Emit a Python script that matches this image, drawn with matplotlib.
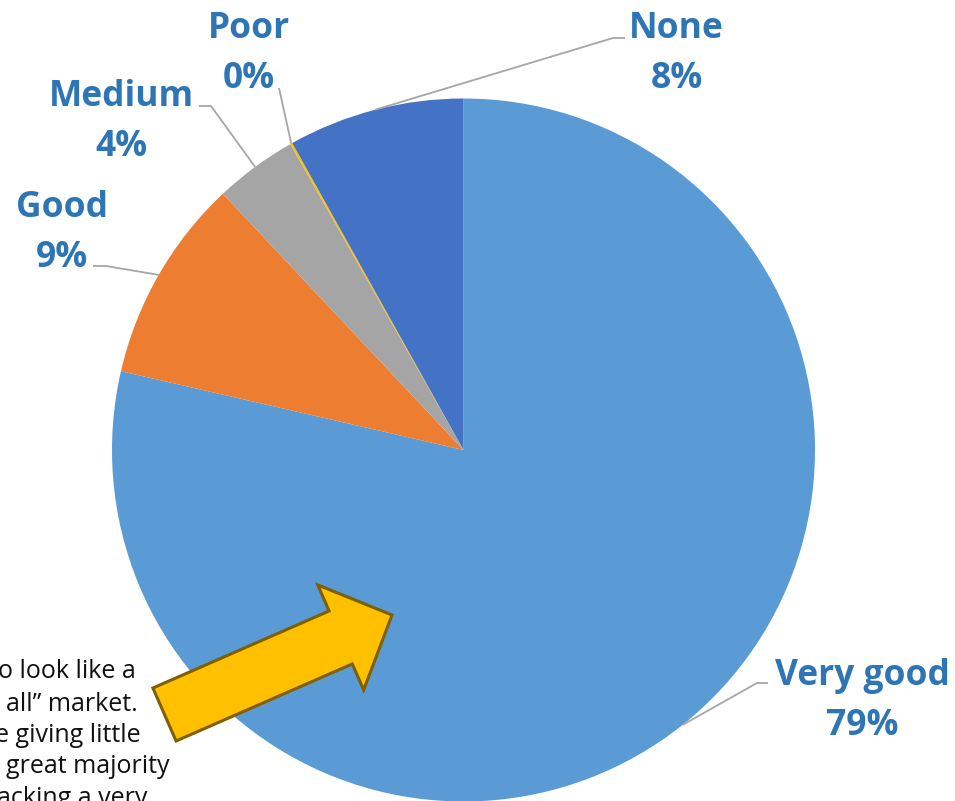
import matplotlib
matplotlib.use("Agg")
import numpy as np
import matplotlib.pyplot as plt
from matplotlib.patches import FancyArrow

categories = ["Very good", "Good", "Medium", "Poor", "None"]
shares = [78.6, 9.4, 3.8, 0.1, 8.1]
colors = ["#5B9BD5", "#ED7D31", "#A5A5A5", "#FFC000", "#4472C4"]

note_lines = ["o look like a", "all\u201d market.", "e giving little",
              "great majority", "acking a very"]

W, H = 955, 801
LABEL_BLUE = "#2E75B6"
LEADER = "#A6A6A6"

plt.rcParams["font.family"] = ["Open Sans", "DejaVu Sans"]

fig = plt.figure(figsize=(W / 100, H / 100), dpi=100)
ax = fig.add_axes([0, 0, 1, 1])


def px(x, y):
    # pixel position measured from the top-left corner -> axes data
    return x, H - y


cx, cy = px(463.5, 450)
radius = 351.5
wedges, _ = ax.pie(shares, colors=colors, startangle=90, counterclock=False,
                   center=(cx, cy), radius=radius, frame=True,
                   wedgeprops=dict(linewidth=0))
ax.set_xlim(0, W)
ax.set_ylim(0, H)
ax.set_aspect("equal")
ax.axis("off")

# label anchor: (centre x, name baseline, elbow start x, elbow end x, elbow y)
label_layout = {
    "Very good": (862, 685, 768, 757, 683),
    "Good": (61.5, 217, 93, 106, 266),
    "Medium": (121.5, 106, 199, 211, 106),
    "Poor": (249, 38, 279, 279, 88),
    "None": (676.5, 38, 625, 613, 38),
}

for w, name, val in zip(wedges, categories, shares):
    lx, base, ex0, ex1, ey = label_layout[name]
    x, y = px(lx, base)
    ax.text(x, y, name, ha="center", va="baseline", fontsize=25.5,
            fontweight="bold", color=LABEL_BLUE)
    x, y = px(lx, base + 50)
    ax.text(x, y, f"{round(val):.0f}%", ha="center", va="baseline",
            fontsize=25.5, fontweight="bold", color=LABEL_BLUE)
    mid = np.deg2rad((w.theta1 + w.theta2) / 2)
    tip = (cx + radius * np.cos(mid), cy + radius * np.sin(mid))
    a = px(ex0, ey)
    b = px(ex1, ey)
    ax.plot([a[0], b[0], tip[0]], [a[1], b[1], tip[1]], color=LEADER,
            linewidth=1.3, solid_capstyle="butt", zorder=3)

# callout arrow pointing into the big slice
tx, ty = px(164.5, 714.5)
hx, hy = px(392, 615)
arrow = FancyArrow(tx, ty, hx - tx, hy - ty, width=57.8, head_width=114.6,
                   head_length=56, length_includes_head=True,
                   facecolor="#FFC000", edgecolor="#7F6000", linewidth=2.2,
                   zorder=5)
ax.add_patch(arrow)

# side note, running off the left edge
note_x = [-2, 6, -5, 6, -3]
note_base = [678, 711, 742, 773, 805]
for t, x0, b in zip(note_lines, note_x, note_base):
    x, y = px(x0, b)
    ax.text(x, y, t, ha="left", va="baseline", fontsize=18, color="#111111",
            zorder=6)

fig.savefig("out.png", dpi=100)
